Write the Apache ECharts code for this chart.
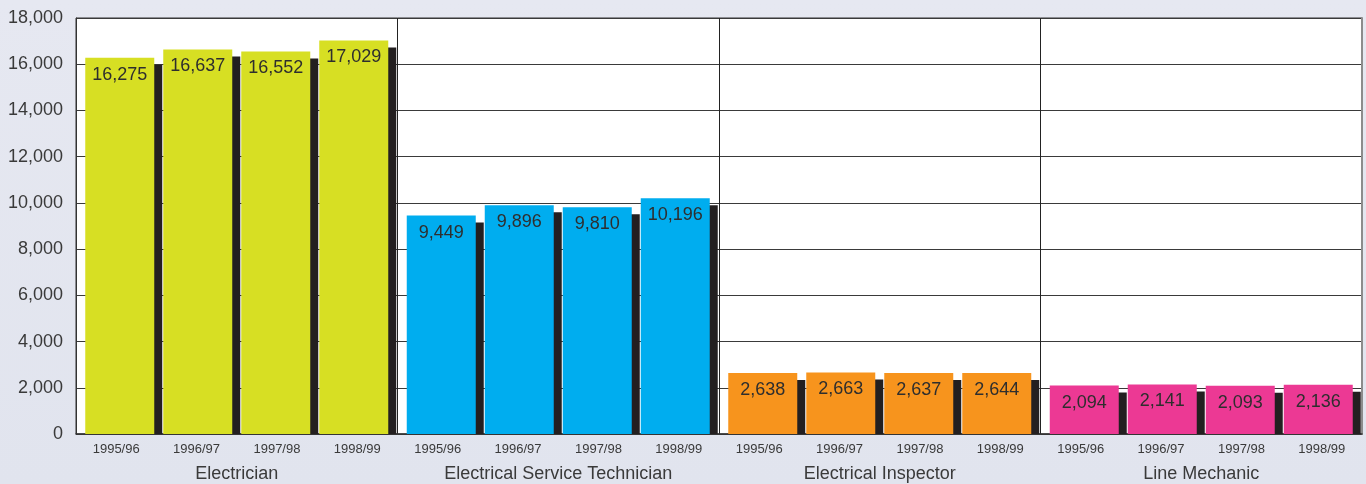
<!DOCTYPE html>
<html>
<head>
<meta charset="utf-8">
<script src="https://cdn.jsdelivr.net/npm/echarts@6/dist/echarts.min.js"></script>
<style>
  html, body { margin: 0; padding: 0; }
  #chart {
    width: 1366px;
    height: 484px;
    background: linear-gradient(180deg, #e6e8f1 0%, #e1e4ee 100%);
  }
</style>
</head>
<body>
<div id="chart"></div>
<script>
// trades (groups) and years (bars in each group)
const trades = ['Electrician', 'Electrical Service Technician', 'Electrical Inspector', 'Line Mechanic'];
const years = ['1995/96', '1996/97', '1997/98', '1998/99'];

// values per trade, one per year
const electrician = [16275, 16637, 16552, 17029];
const serviceTechnician = [9449, 9896, 9810, 10196];
const inspector = [2638, 2663, 2637, 2644];
const lineMechanic = [2094, 2141, 2093, 2136];

// y axis
const yMin = 0;
const yMax = 18000;
const yStep = 2000;

const tradeValues = [electrician, serviceTechnician, inspector, lineMechanic];
const tradeColors = ['#d7df23', '#00adef', '#f7941d', '#ec3994'];

const barW = 69;
const barGapPx = 9;
const shadowDX = 8;
const shadowDY = 7;
const font = 'Liberation Sans, Arial, sans-serif';

const chart = echarts.init(document.getElementById('chart'));

// coloured bars, one series per year
let barSeries = years.map((yr, k) => ({
  name: yr,
  type: 'bar',
  xAxisIndex: 0,
  yAxisIndex: 0,
  z: 3,
  barWidth: barW,
  barGap: (barGapPx / barW * 100) + '%',
  data: tradeValues.map((vals, g) => ({
    value: vals[k],
    itemStyle: { color: tradeColors[g] }
  })),
  label: {
    show: true,
    position: 'insideTop',
    distance: 8,
    fontFamily: font,
    fontSize: 18,
    color: '#2e2e2e',
    formatter: p => p.value.toLocaleString('en-US')
  }
}));

// dark shadow bars behind, offset right and down
let shadowData = [];
tradeValues.forEach((vals, g) => {
  vals.forEach((v, k) => shadowData.push([g, v, k]));
});

const shadowSeries = {
  type: 'custom',
  xAxisIndex: 0,
  yAxisIndex: 0,
  z: 2,
  silent: true,
  encode: { x: 0, y: 1 },
  data: shadowData,
  renderItem: function (params, api) {
    const g = api.value(0);
    const v = api.value(1);
    const k = api.value(2);
    const top = api.coord([g, v]);
    const base = api.coord([g, 0]);
    const total = years.length * barW + (years.length - 1) * barGapPx;
    const x = top[0] - total / 2 + k * (barW + barGapPx) + shadowDX;
    const y = top[1] + shadowDY;
    return {
      type: 'rect',
      shape: { x: x, y: y, width: barW, height: base[1] - y },
      style: { fill: '#231f20' }
    };
  }
};

chart.setOption({
  animation: false,
  backgroundColor: 'transparent',
  grid: {
    left: 76,
    right: 4,
    top: 18,
    bottom: 50,
    show: true,
    backgroundColor: '#ffffff',
    borderColor: '#333',
    borderWidth: 1
  },
  xAxis: [
    {
      type: 'category',
      position: 'bottom',
      data: trades,
      axisTick: { show: false },
      axisLine: { show: true, lineStyle: { color: '#333', width: 1.5 } },
      splitLine: { show: true, lineStyle: { color: '#222', width: 1 } },
      axisLabel: {
        margin: 31,
        fontFamily: font,
        fontSize: 18,
        color: '#3a3a3a'
      }
    },
    {
      type: 'category',
      position: 'bottom',
      data: trades.flatMap(() => years),
      axisTick: { show: false },
      axisLine: { show: false },
      splitLine: { show: false },
      axisLabel: {
        margin: 9,
        interval: 0,
        fontFamily: font,
        fontSize: 13,
        color: '#3a3a3a'
      }
    }
  ],
  yAxis: [
    {
      type: 'value',
      min: yMin,
      max: yMax,
      interval: yStep,
      axisLine: { show: true, lineStyle: { color: '#333' } },
      axisTick: { show: false },
      splitLine: { show: true, lineStyle: { color: '#3a3a3a', width: 1 } },
      axisLabel: {
        margin: 13,
        fontFamily: font,
        fontSize: 18,
        color: '#3a3a3a',
        formatter: v => v.toLocaleString('en-US')
      }
    },
    {
      type: 'value',
      position: 'right',
      min: yMin,
      max: yMax,
      interval: yStep,
      axisLine: { show: true, lineStyle: { color: '#8c8c8c', width: 2 } },
      axisTick: { show: false },
      axisLabel: { show: false },
      splitLine: { show: false }
    }
  ],
  series: [shadowSeries].concat(barSeries)
});
</script>
</body>
</html>
